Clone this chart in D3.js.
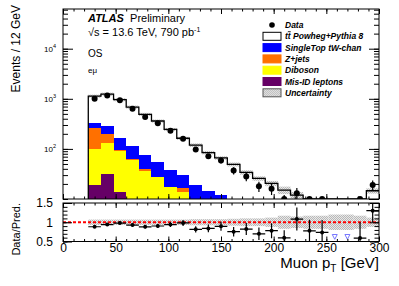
<!DOCTYPE html>
<html>
<head>
<meta charset="utf-8">
<script src="https://cdn.jsdelivr.net/npm/d3@7"></script>
<style>
  body { margin: 0; background: #fff; }
  svg { display: block; font-family: 'Liberation Sans', Arial, Helvetica, sans-serif; }
  .axis path.domain { display: none; }
  .axis line { stroke: #000; }
  .axis text { fill: #000; font-family: 'Liberation Sans', Arial, sans-serif; }
</style>
</head>
<body>
<div class="chart"></div>
<script>
// Data (muon pT bins, 12 GeV wide)
const binLow = [24, 36, 48, 60, 72, 84, 96, 108, 120, 132, 144, 156, 168, 180, 192, 204, 216, 228, 240, 252, 264, 276, 288];
const binWidth = 12;

const ttbar     = [797, 954, 791, 571, 415, 305, 207, 133, 100, 70, 54, 41, 28, 21.2, 17, 12.1, 9.6, 7, 5.2, 3.7, 2.9, 2.5, 11.6];
const singleTop = [74, 84, 72, 51, 36, 27.5, 20.1, 13.2, 10.5, 8.3, 7.5, 4.8, 3.8, 2.8, 2.2, 1.9, 1.6, 1.3, 1, 0.8, 0.7, 0.6, 1.6];
const zjets     = [159, 70, 6, 2.4, 2.4, 0.7, 0.5, 3.2, 0.5, 0.3, 0.5, 0.2, 0.2, 0.2, 0.1, 0.1, 0.1, 0.1, 0.1, 0.1, 0, 0, 0.1];
const diboson   = [83, 101, 77, 54, 32.5, 24, 15.1, 12.1, 7, 5.2, 3.4, 2.5, 1.6, 1.2, 1, 0.8, 0.6, 0.5, 0.4, 0.3, 0.3, 0.2, 1];
const misId     = [18.7, 31, 13.8, 6, 4, 3, 2, 1.5, 1, 0.8, 0.6, 0.5, 0.4, 0.3, 0.2, 0.2, 0.1, 0.1, 0.1, 0.1, 0.1, 0.1, 0.3];

const data    = [1000, 1165, 940, 635, 432, 325, 230, 160, 97, 71, 59, 37, 28, 18, 16, 9, 13, 7, 5, 0, 0, 2, 19];
const dataErr = [31.6, 34.1, 30.7, 25.2, 20.8, 18.0, 15.2, 12.6, 9.8, 8.4, 7.7, 6.1, 5.3, 4.2, 4.0, 3.0, 3.6, 2.6, 2.2, 0, 0, 1.4, 4.4];
// relative uncertainty on the prediction
const predUnc = [0.07, 0.07, 0.07, 0.07, 0.07, 0.07, 0.07, 0.07, 0.08, 0.08, 0.08, 0.09, 0.1, 0.1, 0.12, 0.17, 0.15, 0.17, 0.17, 0.2, 0.2, 0.17, 0.12];

const xTickValues = [0, 50, 100, 150, 200, 250, 300];
const yTickValues = [100, 1000, 10000];
const rTickValues = [0.5, 1, 1.5];

const legendLabels = ['Data', 'tt Powheg+Pythia 8', 'SingleTop tW-chan', 'Z+jets', 'Diboson', 'Mis-ID leptons', 'Uncertainty'];

// Layout
const width = 399, height = 286;
const plot = {left: 63, right: 379};
const main = {top: 9, bottom: 199};
const ratio = {top: 203, bottom: 241.5};

const keys = ['misId', 'diboson', 'zjets', 'singleTop', 'ttbar'];
const colors = {misId: '#660066', diboson: '#ffff00', zjets: '#ff7000', singleTop: '#0000ff', ttbar: '#ffffff'};

const bins = binLow.map((lo, i) => {
    const d = {lo: lo, hi: lo + binWidth, misId: misId[i], diboson: diboson[i], zjets: zjets[i],
        singleTop: singleTop[i], ttbar: ttbar[i], data: data[i], err: dataErr[i], unc: predUnc[i]};
    d.total = keys.reduce((s, k) => s + d[k], 0);
    return d;
});

// Scales
const xScale = d3.scaleLinear().domain([0, 300]).range([plot.left, plot.right]);
const yScale = d3.scaleLog().domain([10, 6.2e4]).range([main.bottom, main.top]).clamp(true);
const rScale = d3.scaleLinear().domain([0.5, 1.5]).range([ratio.bottom, ratio.top]);
const ySafe = v => yScale(Math.max(v, 1e-3));

const svg = d3.select('.chart').append('svg')
    .attr('width', width)
    .attr('height', height);

// hatch pattern for uncertainty
const defs = svg.append('defs');
const pat = defs.append('pattern').attr('id', 'unc')
    .attr('width', 2).attr('height', 2).attr('patternUnits', 'userSpaceOnUse');
pat.append('rect').attr('width', 2).attr('height', 2).attr('fill', '#e8e8e8');
pat.append('rect').attr('width', 1).attr('height', 1).attr('fill', '#b8b8b8');
pat.append('rect').attr('x', 1).attr('y', 1).attr('width', 1).attr('height', 1).attr('fill', '#b8b8b8');

defs.append('clipPath').attr('id', 'clipMain').append('rect')
    .attr('x', plot.left).attr('y', main.top)
    .attr('width', plot.right - plot.left).attr('height', main.bottom - main.top);
defs.append('clipPath').attr('id', 'clipRatio').append('rect')
    .attr('x', plot.left).attr('y', ratio.top)
    .attr('width', plot.right - plot.left).attr('height', ratio.bottom - ratio.top);

// Main panel: stacked histogram
const gMain = svg.append('g').attr('clip-path', 'url(#clipMain)');
const series = d3.stack().keys(keys)(bins);

gMain.selectAll('g.layer')
    .data(series)
    .join('g')
    .attr('class', 'layer')
    .attr('fill', s => colors[s.key])
    .selectAll('rect')
    .data(s => s)
    .join('rect')
    .attr('shape-rendering', 'crispEdges')
    .attr('x', d => xScale(d.data.lo))
    .attr('width', d => xScale(d.data.hi) - xScale(d.data.lo))
    .attr('y', d => ySafe(d[1]))
    .attr('height', d => ySafe(d[0]) - ySafe(d[1]));

// uncertainty band
gMain.selectAll('rect.band')
    .data(bins)
    .join('rect')
    .attr('class', 'band')
    .attr('x', d => xScale(d.lo))
    .attr('width', d => xScale(d.hi) - xScale(d.lo))
    .attr('y', d => ySafe(d.total * (1 + d.unc)))
    .attr('height', d => ySafe(d.total * (1 - d.unc)) - ySafe(d.total * (1 + d.unc)))
    .attr('fill', 'url(#unc)');

// total prediction outline
const stepPts = [[binLow[0], 1e-3]]
    .concat(bins.map(d => [d.lo, d.total]))
    .concat([[300, bins[bins.length - 1].total]]);
gMain.append('path')
    .attr('d', d3.line().x(d => xScale(d[0])).y(d => ySafe(d[1])).curve(d3.curveStepAfter)(stepPts))
    .attr('fill', 'none')
    .attr('stroke', '#000')
    .attr('stroke-width', 1.3);

// data points
const mainPts = bins.filter(d => d.data > 0);
gMain.selectAll('line.err')
    .data(mainPts)
    .join('line')
    .attr('class', 'err')
    .attr('x1', d => xScale(d.lo + binWidth / 2))
    .attr('x2', d => xScale(d.lo + binWidth / 2))
    .attr('y1', d => ySafe(d.data - d.err))
    .attr('y2', d => ySafe(d.data + d.err))
    .attr('stroke', '#000')
    .attr('stroke-width', 1.2);
gMain.selectAll('circle.pt')
    .data(mainPts)
    .join('circle')
    .attr('class', 'pt')
    .attr('cx', d => xScale(d.lo + binWidth / 2))
    .attr('cy', d => ySafe(d.data))
    .attr('r', 3)
    .attr('fill', '#000');

// Ratio panel
const gRatio = svg.append('g').attr('clip-path', 'url(#clipRatio)');
gRatio.selectAll('rect.band')
    .data(bins)
    .join('rect')
    .attr('class', 'band')
    .attr('x', d => xScale(d.lo))
    .attr('width', d => xScale(d.hi) - xScale(d.lo))
    .attr('y', d => rScale(1 + d.unc))
    .attr('height', d => rScale(1 - d.unc) - rScale(1 + d.unc))
    .attr('fill', 'url(#unc)');

gRatio.append('line')
    .attr('x1', plot.left).attr('x2', plot.right)
    .attr('y1', rScale(1)).attr('y2', rScale(1))
    .attr('stroke', '#ff0000')
    .attr('stroke-width', 2)
    .attr('stroke-dasharray', '3,2');

const ratioPts = bins.filter(d => d.data > 0);
const rp = gRatio.selectAll('g.rpt')
    .data(ratioPts)
    .join('g')
    .attr('class', 'rpt');
rp.append('line')
    .attr('x1', d => xScale(d.lo)).attr('x2', d => xScale(d.hi))
    .attr('y1', d => rScale(d.data / d.total)).attr('y2', d => rScale(d.data / d.total))
    .attr('stroke', '#000').attr('stroke-width', 1.2);
rp.append('line')
    .attr('x1', d => xScale(d.lo + binWidth / 2)).attr('x2', d => xScale(d.lo + binWidth / 2))
    .attr('y1', d => rScale((d.data - d.err) / d.total)).attr('y2', d => rScale((d.data + d.err) / d.total))
    .attr('stroke', '#000').attr('stroke-width', 1.2);
rp.append('circle')
    .attr('cx', d => xScale(d.lo + binWidth / 2))
    .attr('cy', d => rScale(d.data / d.total))
    .attr('r', 2)
    .attr('fill', '#000');

// out-of-range markers
svg.append('g').selectAll('path')
    .data(bins.filter(d => d.data === 0))
    .join('path')
    .attr('d', 'M-2.5,-2.5L2.5,-2.5L0,2.3Z')
    .attr('transform', d => `translate(${xScale(d.lo + binWidth / 2)}, ${ratio.bottom - 4.5})`)
    .attr('fill', 'none')
    .attr('stroke', '#7878ff')
    .attr('stroke-width', 1);

// Axes / ticks
function ticks(g, axis) {
    g.attr('class', 'axis').call(axis);
    g.select('.domain').remove();
    return g;
}

// main x ticks (no labels)
[[main.bottom, d3.axisBottom, -5], [main.top, d3.axisTop, -5]].forEach(([y, fn, len]) => {
    ticks(svg.append('g').attr('transform', `translate(0, ${y})`),
        fn(xScale).tickValues(xTickValues).tickSizeInner(len).tickSizeOuter(0).tickFormat(''));
    ticks(svg.append('g').attr('transform', `translate(0, ${y})`),
        fn(xScale).tickValues(d3.range(0, 301, 10)).tickSizeInner(len / 2).tickSizeOuter(0).tickFormat(''));
});

// main y ticks
const yLabels = ticks(svg.append('g').attr('transform', `translate(${plot.left}, 0)`),
    d3.axisLeft(yScale).tickValues(yTickValues).tickSizeInner(-10).tickSizeOuter(0).tickPadding(7).tickFormat(''));
yLabels.selectAll('.tick text').each(function(d) {
    const t = d3.select(this).style('font-size', '8px');
    t.append('tspan').text('10');
    t.append('tspan').text(Math.round(Math.log10(d))).attr('dy', -3.5).style('font-size', '5.5px');
}).attr('dy', '0.32em');
ticks(svg.append('g').attr('transform', `translate(${plot.left}, 0)`),
    d3.axisLeft(yScale).tickValues(yScale.ticks()).tickSizeInner(-5).tickSizeOuter(0).tickFormat(''));
ticks(svg.append('g').attr('transform', `translate(${plot.right}, 0)`),
    d3.axisRight(yScale).tickValues(yTickValues.concat([10])).tickSizeInner(-10).tickSizeOuter(0).tickFormat(''));
ticks(svg.append('g').attr('transform', `translate(${plot.right}, 0)`),
    d3.axisRight(yScale).tickValues(yScale.ticks()).tickSizeInner(-5).tickSizeOuter(0).tickFormat(''));

// ratio x ticks
const xAxisDraw = ticks(svg.append('g').attr('transform', `translate(0, ${ratio.bottom})`),
    d3.axisBottom(xScale).tickValues(xTickValues).tickSizeInner(-5).tickSizeOuter(0).tickPadding(2));
xAxisDraw.selectAll('text').style('font-size', '12px');
ticks(svg.append('g').attr('transform', `translate(0, ${ratio.bottom})`),
    d3.axisBottom(xScale).tickValues(d3.range(0, 301, 10)).tickSizeInner(-2.5).tickSizeOuter(0).tickFormat(''));
ticks(svg.append('g').attr('transform', `translate(0, ${ratio.top})`),
    d3.axisTop(xScale).tickValues(xTickValues).tickSizeInner(-5).tickSizeOuter(0).tickFormat(''));
ticks(svg.append('g').attr('transform', `translate(0, ${ratio.top})`),
    d3.axisTop(xScale).tickValues(d3.range(0, 301, 10)).tickSizeInner(-2.5).tickSizeOuter(0).tickFormat(''));

// ratio y ticks
const rAxisDraw = ticks(svg.append('g').attr('transform', `translate(${plot.left}, 0)`),
    d3.axisLeft(rScale).tickValues(rTickValues).tickSizeInner(-9).tickSizeOuter(0).tickPadding(10).tickFormat(d => String(d)));
rAxisDraw.selectAll('text').style('font-size', '12px');
ticks(svg.append('g').attr('transform', `translate(${plot.left}, 0)`),
    d3.axisLeft(rScale).tickValues(d3.range(0.5, 1.51, 0.1)).tickSizeInner(-4.5).tickSizeOuter(0).tickFormat(''));
ticks(svg.append('g').attr('transform', `translate(${plot.right}, 0)`),
    d3.axisRight(rScale).tickValues(rTickValues).tickSizeInner(-9).tickSizeOuter(0).tickFormat(''));
ticks(svg.append('g').attr('transform', `translate(${plot.right}, 0)`),
    d3.axisRight(rScale).tickValues(d3.range(0.5, 1.51, 0.1)).tickSizeInner(-4.5).tickSizeOuter(0).tickFormat(''));

// frames
[[main.top, main.bottom], [ratio.top, ratio.bottom]].forEach(([t, b]) => {
    svg.append('rect')
        .attr('x', plot.left).attr('y', t)
        .attr('width', plot.right - plot.left).attr('height', b - t)
        .attr('fill', 'none').attr('stroke', '#000').attr('stroke-width', 1);
});

// Axis titles
svg.append('text')
    .attr('transform', 'translate(20, 5) rotate(-90)')
    .attr('text-anchor', 'end')
    .style('font-size', '12px')
    .text('Events / 12 GeV');
svg.append('text')
    .attr('transform', `translate(20, ${ratio.top}) rotate(-90)`)
    .attr('text-anchor', 'end')
    .style('font-size', '11px')
    .text('Data/Pred.');
const xTitle = svg.append('text')
    .attr('x', plot.right).attr('y', 268)
    .attr('text-anchor', 'end')
    .style('font-size', '15px');
xTitle.append('tspan').text('Muon p');
xTitle.append('tspan').text('T').attr('dy', 4).style('font-size', '10px');
xTitle.append('tspan').text(' [GeV]').attr('dy', -4);

// ATLAS label
const atlas = svg.append('text').attr('x', 88).attr('y', 22).style('font-size', '11px');
atlas.append('tspan').text('ATLAS').style('font-weight', 'bold').style('font-style', 'italic');
atlas.append('tspan').text(' Preliminary').attr('x', 127);
const lumi = svg.append('text').attr('x', 88).attr('y', 36).style('font-size', '11px');
lumi.append('tspan').text('\u221As = 13.6 TeV, 790 pb');
lumi.append('tspan').text('-1').attr('dy', -4).style('font-size', '7px');
svg.append('text').attr('x', 88).attr('y', 57).style('font-size', '10px').text('OS');
svg.append('text').attr('x', 88).attr('y', 73).style('font-size', '8px').text('e\u03bc');

// Legend
const legend = svg.append('g').attr('transform', 'translate(263, 25)');
const rowH = 11.3;
const swatch = ['data', 'ttbar', 'singleTop', 'zjets', 'diboson', 'misId', 'unc'];
legendLabels.forEach((label, i) => {
    const row = legend.append('g').attr('transform', `translate(0, ${i * rowH})`);
    const key = swatch[i];
    if (key === 'data') {
        row.append('circle').attr('cx', 9).attr('cy', 0).attr('r', 2.8).attr('fill', '#000');
    } else {
        row.append('rect')
            .attr('x', 0).attr('y', -4).attr('width', 18).attr('height', 8)
            .attr('fill', key === 'unc' ? 'url(#unc)' : colors[key])
            .attr('stroke', key === 'unc' ? '#555' : (key === 'ttbar' ? '#000' : colors[key]))
            .attr('stroke-width', 1);
    }
    const t = row.append('text')
        .attr('x', 22).attr('y', 3)
        .style('font-size', '8.5px')
        .style('font-weight', 'bold')
        .style('font-style', 'italic');
    if (key === 'ttbar') {
        t.append('tspan').text('t');
        t.append('tspan').text('t').style('text-decoration', 'overline');
        t.append('tspan').text(label.slice(2));
    } else {
        t.text(label);
    }
});
</script>
</body>
</html>
